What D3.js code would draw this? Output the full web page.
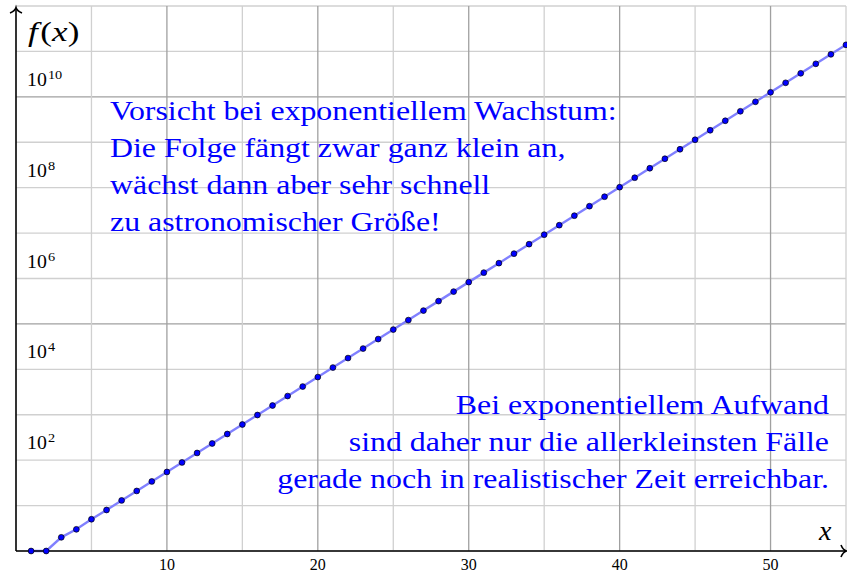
<!DOCTYPE html>
<html>
<head>
<meta charset="utf-8">
<script src="https://cdn.jsdelivr.net/npm/d3@7"></script>
<style>
  body { margin: 0; background: #fff; }
  svg text { font-family: "Liberation Serif", "DejaVu Serif", serif; }
</style>
</head>
<body>
<div id="chart"></div>
<script>
// Fibonacci numbers f(1) .. f(55), as plotted
const xs = d3.range(1, 56);
const fib = [
  1, 1, 2, 3, 5, 8, 13, 21, 34, 55,
  89, 144, 233, 377, 610, 987, 1597, 2584, 4181, 6765,
  10946, 17711, 28657, 46368, 75025, 121393, 196418, 317811, 514229, 832040,
  1346269, 2178309, 3524578, 5702887, 9227465, 14930352, 24157817, 39088169, 63245986, 102334155,
  165580141, 267914296, 433494437, 701408733, 1134903170, 1836311903, 2971215073, 4807526976, 7778742049, 12586269025,
  20365011074, 32951280099, 53316291173, 86267571272, 139583862445
];
const xTicks = [10, 20, 30, 40, 50];
const xGridMinor = [5, 15, 25, 35, 45, 55];
const yTickExps = [2, 4, 6, 8, 10];
const yGridExps = d3.range(0, 13);
const yGridMajor = [5, 10];

const noteLeft = [
  "Vorsicht bei exponentiellem Wachstum:",
  "Die Folge fängt zwar ganz klein an,",
  "wächst dann aber sehr schnell",
  "zu astronomischer Größe!"
];
const noteRight = [
  "Bei exponentiellem Aufwand",
  "sind daher nur die allerkleinsten Fälle",
  "gerade noch in realistischer Zeit erreichbar."
];

const width = 847, height = 574;
const x0 = 16, x1 = 846, y0 = 551, y1 = 6;

const x = d3.scaleLinear().domain([0, 55]).range([x0, x1]);
const y = d3.scaleLog().domain([1, 1e12]).range([y0, y1]);

const svg = d3.select("#chart").append("svg")
  .attr("width", width).attr("height", height);

// grid
const grid = svg.append("g");
grid.selectAll(".hg")
  .data(yGridExps)
  .join("line")
  .attr("x1", x0).attr("x2", x1)
  .attr("y1", d => y(Math.pow(10, d))).attr("y2", d => y(Math.pow(10, d)))
  .attr("stroke", d => yGridMajor.includes(d) ? "#a0a0a0" : "#d0d0d0")
  .attr("stroke-width", 1.3);
grid.selectAll(".vgm")
  .data(xGridMinor)
  .join("line")
  .attr("x1", d => x(d)).attr("x2", d => x(d))
  .attr("y1", y0).attr("y2", y1)
  .attr("stroke", "#d0d0d0").attr("stroke-width", 1.3);
grid.selectAll(".vg")
  .data(xTicks)
  .join("line")
  .attr("x1", d => x(d)).attr("x2", d => x(d))
  .attr("y1", y0).attr("y2", y1)
  .attr("stroke", "#a0a0a0").attr("stroke-width", 1.3);

// notes (Libertine is wider than Times, so stretch horizontally)
const blue = "#0000ff";
const stretch = 1.18;
svg.append("g")
  .selectAll("text")
  .data(noteLeft)
  .join("text")
  .attr("transform", (d, i) => `translate(110,${120 + i * 37}) scale(${stretch},1)`)
  .attr("font-size", 27)
  .attr("fill", blue)
  .text(d => d);
svg.append("g")
  .selectAll("text")
  .data(noteRight)
  .join("text")
  .attr("transform", (d, i) => `translate(829,${414 + i * 37}) scale(${stretch},1)`)
  .attr("text-anchor", "end")
  .attr("font-size", 27)
  .attr("fill", blue)
  .text(d => d);

// series
const pts = xs.map((d, i) => [d, fib[i]]);
svg.append("path")
  .datum(pts)
  .attr("fill", "none")
  .attr("stroke", "#8080ff")
  .attr("stroke-width", 2.4)
  .attr("d", d3.line().x(d => x(d[0])).y(d => y(d[1])));

// axes
const axes = svg.append("g").attr("stroke", "#000").attr("stroke-width", 1.6).attr("fill", "none");
axes.append("line").attr("x1", x0).attr("x2", x1).attr("y1", y0).attr("y2", y0);
axes.append("line").attr("x1", x0).attr("x2", x0).attr("y1", y0).attr("y2", 8);
axes.append("path").attr("d", `M${x1 - 5},${y0 - 6} Q${x1 - 3},${y0 - 1} ${x1 + 0.5},${y0} Q${x1 - 3},${y0 + 1} ${x1 - 5},${y0 + 6}`);
axes.append("path").attr("d", `M${x0 - 6},${13} Q${x0 - 1},${11} ${x0},${7.5} Q${x0 + 1},${11} ${x0 + 6},${13}`);

svg.append("g")
  .selectAll("circle")
  .data(pts)
  .join("circle")
  .attr("cx", d => x(d[0]))
  .attr("cy", d => y(d[1]))
  .attr("r", 2.9)
  .attr("fill", blue)
  .attr("stroke", "#000")
  .attr("stroke-width", 0.7);

// tick labels
svg.append("g")
  .selectAll("text")
  .data(xTicks)
  .join("text")
  .attr("x", d => x(d))
  .attr("y", 570)
  .attr("text-anchor", "middle")
  .attr("font-size", 16)
  .text(d => d);

const yl = svg.append("g")
  .selectAll("text")
  .data(yTickExps)
  .join("text")
  .attr("transform", d => `translate(27,${y(Math.pow(10, d)) - 11}) scale(1.1,1)`)
  .attr("font-size", 18);
yl.append("tspan").text("10");
yl.append("tspan").attr("dx", 1).attr("dy", -7).attr("font-size", 13).text(d => d);

// axis labels
const fl = svg.append("text")
  .attr("transform", "translate(28,41) scale(1.3,1)")
  .attr("font-size", 27);
fl.append("tspan").attr("font-style", "italic").text("f");
fl.append("tspan").attr("dx", 2).text("(");
fl.append("tspan").attr("font-style", "italic").text("x");
fl.append("tspan").text(")");

svg.append("text").attr("x", 819).attr("y", 540)
  .attr("font-size", 28).attr("font-style", "italic").text("x");
</script>
</body>
</html>
